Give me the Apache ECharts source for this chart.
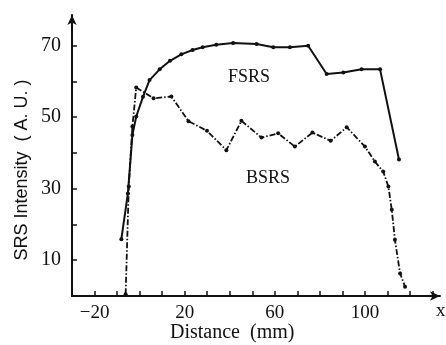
<!DOCTYPE html>
<html><head><meta charset="utf-8">
<script src="https://cdn.jsdelivr.net/npm/echarts@6/dist/echarts.min.js"></script>
<style>html,body{margin:0;padding:0;background:#fff}#c{width:446px;height:345px}</style>
</head><body><div id="c"></div>
<script>
const fsrsX = [-8.1, -5.2, -3.2, -1.5, 1.5, 4.4, 8.9, 13.5, 18.5, 23.5, 28, 34, 41.5, 51.9, 59.3, 66.7, 74.8, 83, 90.4, 98.5, 106.7, 115.1];
const fsrsY = [15.9, 28.7, 45, 50.2, 55.7, 60.4, 63.4, 65.8, 67.6, 68.8, 69.6, 70.3, 70.8, 70.5, 69.6, 69.6, 70.0, 62.1, 62.5, 63.4, 63.4, 38.2];
const bsrsX = [-6.2, -4.8, -3.2, -1.5, 6.2, 14.1, 21.7, 29.9, 38.5, 45.2, 54.1, 61.5, 68.9, 76.7, 84.8, 91.9, 100, 104.4, 108.1, 110.4, 111.9, 113.3, 115.6, 117.8];
const bsrsY = [0.5, 30.6, 47.4, 58.3, 55.3, 55.8, 48.9, 46.2, 40.8, 49, 44.3, 45.5, 41.8, 45.7, 43.4, 47.2, 41.8, 37.6, 34.8, 30.6, 24.1, 15.7, 6.3, 2.6];
const xTickLabels = [-20, 20, 60, 100];
const yTickLabels = [10, 30, 50, 70];
const seriesNames = ['FSRS', 'BSRS'];

const zip = (xs, ys) => xs.map((x, i) => [x, ys[i]]);
const chart = echarts.init(document.getElementById('c'));
const serif = 'Liberation Serif';
chart.setOption({
  animation: false,
  grid: {left: 72, right: 6, top: 15, bottom: 49},
  xAxis: {
    type: 'value', min: -30, max: 133.3, interval: 10,
    splitLine: {show: false},
    axisLine: {onZero: false, lineStyle: {color: '#111', width: 2}, symbol: ['none', 'arrow'], symbolSize: [7, 10]},
    axisTick: {inside: true, length: 5, lineStyle: {color: '#111', width: 1.5}},
    axisLabel: {
      margin: 8, color: '#111', fontFamily: serif, fontSize: 19, showMaxLabel: false,
      formatter: v => xTickLabels.includes(Math.round(v)) ? (v < 0 ? '\u2212' + Math.abs(v) : String(v)) : ''
    }
  },
  yAxis: {
    type: 'value', min: 0, max: 78.6, interval: 10,
    splitLine: {show: false},
    axisLine: {onZero: false, lineStyle: {color: '#111', width: 2}, symbol: ['none', 'arrow'], symbolSize: [7, 10]},
    axisTick: {inside: true, length: 5, lineStyle: {color: '#111', width: 1.5}},
    axisLabel: {
      margin: 11, color: '#111', fontFamily: serif, fontSize: 20, showMaxLabel: false,
      formatter: v => yTickLabels.includes(Math.round(v)) ? String(v) : ''
    }
  },
  series: [
    {name: seriesNames[0], type: 'line', data: zip(fsrsX, fsrsY), symbol: 'circle', symbolSize: 4,
     lineStyle: {color: '#111', width: 2}, itemStyle: {color: '#111'}},
    {name: seriesNames[1], type: 'line', data: zip(bsrsX, bsrsY), symbol: 'circle', symbolSize: 4,
     lineStyle: {color: '#111', width: 1.8, type: [6, 2, 1.5, 2]}, itemStyle: {color: '#111'}}
  ],
  graphic: [
    {type: 'text', left: 228, top: 68, style: {text: 'FSRS', font: '18px "Liberation Serif"', fill: '#111'}},
    {type: 'text', left: 246, top: 169, style: {text: 'BSRS', font: '18px "Liberation Serif"', fill: '#111'}},
    {type: 'text', left: 170, top: 323, style: {text: 'Distance  (mm)', font: '20px "Liberation Serif"', fill: '#111'}},
    {type: 'text', left: 436, top: 302, style: {text: 'x', font: '19px "Liberation Serif"', fill: '#111'}},
    {type: 'text', x: 22, y: 170, rotation: Math.PI / 2,
     style: {text: 'SRS Intensity  ( A. U. )', font: '18px "Liberation Sans"', fill: '#111', align: 'center', verticalAlign: 'middle'}}
  ]
});
</script></body></html>
